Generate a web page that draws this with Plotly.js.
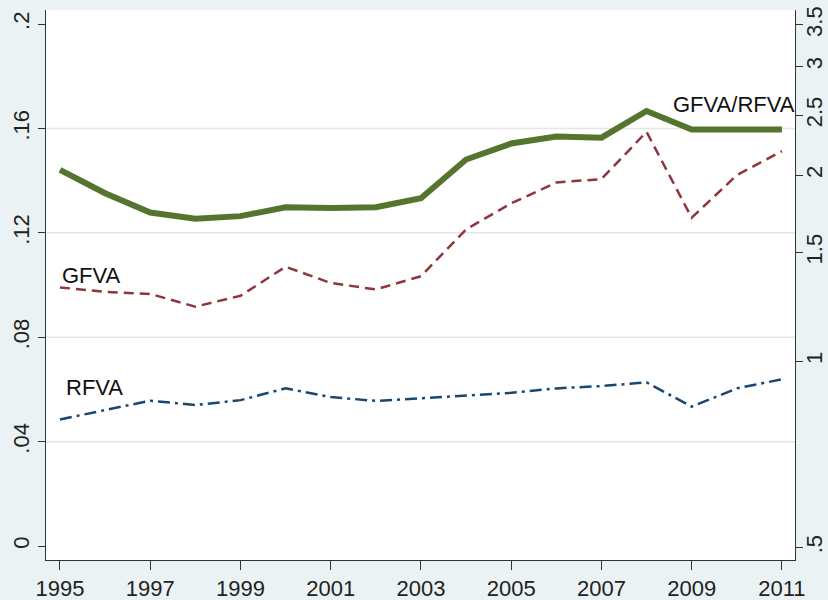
<!DOCTYPE html>
<html>
<head>
<meta charset="utf-8">
<script src="https://cdn.plot.ly/plotly-3.0.1.min.js"></script>
<style>
  html, body { margin: 0; padding: 0; background: #eaf2f3; }
  #chart { width: 828px; height: 600px; }
</style>
</head>
<body>
<div id="chart"></div>
<script>
// Years covered
const years = [1995, 1996, 1997, 1998, 1999, 2000, 2001, 2002, 2003,
               2004, 2005, 2006, 2007, 2008, 2009, 2010, 2011];

// GFVA share (left axis)
const gfva = [0.0991, 0.0974, 0.0966, 0.0917, 0.0959, 0.1070, 0.1008, 0.0983, 0.1034,
              0.1213, 0.1313, 0.1393, 0.1406, 0.1587, 0.1258, 0.1421, 0.1513];

// RFVA share (left axis)
const rfva = [0.0485, 0.0521, 0.0557, 0.0540, 0.0559, 0.0604, 0.0571, 0.0556, 0.0566,
              0.0576, 0.0587, 0.0604, 0.0613, 0.0627, 0.0534, 0.0604, 0.0639];

// Ratio GFVA/RFVA (right axis, log scale)
const ratio = [2.04, 1.87, 1.74, 1.70, 1.717, 1.775, 1.769, 1.775, 1.835,
               2.12, 2.25, 2.31, 2.30, 2.54, 2.37, 2.37, 2.37];

// Axis ticks
const xTicks = [1995, 1997, 1999, 2001, 2003, 2005, 2007, 2009, 2011];
const leftTickVals = [0, 0.04, 0.08, 0.12, 0.16, 0.2];
const leftTickText = ['0', '.04', '.08', '.12', '.16', '.2'];
const rightTickVals = [0.5, 1, 1.5, 2, 2.5, 3, 3.5];
const rightTickText = ['.5', '1', '1.5', '2', '2.5', '3', '3.5'];
const gridVals = [0.04, 0.08, 0.12, 0.16];

const FONT = 'Liberation Sans, Arial, sans-serif';
const FS = 22;

const traces = [
  {
    x: years, y: ratio, yaxis: 'y2', type: 'scatter', mode: 'lines',
    line: { color: '#55752f', width: 6 }, name: 'GFVA/RFVA'
  },
  {
    x: years, y: gfva, yaxis: 'y', type: 'scatter', mode: 'lines',
    line: { color: '#90353b', width: 2.5, dash: '10px,6px' }, name: 'GFVA'
  },
  {
    x: years, y: rfva, yaxis: 'y', type: 'scatter', mode: 'lines',
    line: { color: '#1a476f', width: 2.5, dash: '12px,5px,3px,5px' }, name: 'RFVA'
  }
];

const gridShapes = gridVals.map(v => ({
  type: 'line', xref: 'paper', x0: 0, x1: 1, yref: 'y', y0: v, y1: v,
  line: { color: '#e6e6e6', width: 1.5 }, layer: 'below'
}));

const layout = {
  width: 828, height: 600,
  paper_bgcolor: '#eaf2f3',
  plot_bgcolor: '#ffffff',
  showlegend: false,
  margin: { l: 46, r: 33, t: 10, b: 40, autoexpand: false },
  font: { family: FONT, size: FS, color: '#222' },
  xaxis: {
    range: [1994.69, 2011.29],
    tickvals: xTicks,
    ticktext: xTicks.map(String),
    ticks: 'outside', ticklen: 9, tickcolor: '#333', tickwidth: 1,
    showline: true, linecolor: '#333', linewidth: 1,
    showgrid: false, zeroline: false,
    tickfont: { family: FONT, size: FS, color: '#222' },
    tickangle: 0
  },
  yaxis: {
    range: [-0.00536, 0.2054],
    tickvals: leftTickVals,
    ticktext: leftTickText,
    tickangle: -90,
    ticks: 'outside', ticklen: 7, tickcolor: '#333', tickwidth: 1,
    showline: true, linecolor: '#333', linewidth: 1,
    showgrid: false, zeroline: false,
    tickfont: { family: FONT, size: FS, color: '#222' }
  },
  yaxis2: {
    type: 'log',
    overlaying: 'y', side: 'right',
    range: [Math.log10(0.477), Math.log10(3.70)],
    tickvals: rightTickVals,
    ticktext: rightTickText,
    tickangle: -90,
    ticks: 'outside', ticklen: 7, tickcolor: '#333', tickwidth: 1,
    ticklabelstandoff: -7,
    showline: true, linecolor: '#333', linewidth: 1,
    showgrid: false, zeroline: false,
    tickfont: { family: FONT, size: FS, color: '#222' }
  },
  shapes: gridShapes,
  annotations: [
    { text: 'GFVA', x: 1995.0, y: 0.1038, xref: 'x', yref: 'y',
      xanchor: 'left', yanchor: 'middle', showarrow: false,
      font: { family: FONT, size: FS, color: '#111' } },
    { text: 'RFVA', x: 1995.08, y: 0.0609, xref: 'x', yref: 'y',
      xanchor: 'left', yanchor: 'middle', showarrow: false,
      font: { family: FONT, size: FS, color: '#111' } },
    { text: 'GFVA/RFVA', x: 2008.55, y: 0.169, xref: 'x', yref: 'y',
      xanchor: 'left', yanchor: 'middle', showarrow: false,
      font: { family: FONT, size: FS, color: '#111' } }
  ]
};

Plotly.newPlot('chart', traces, layout, { staticPlot: true, displayModeBar: false });
</script>
</body>
</html>
